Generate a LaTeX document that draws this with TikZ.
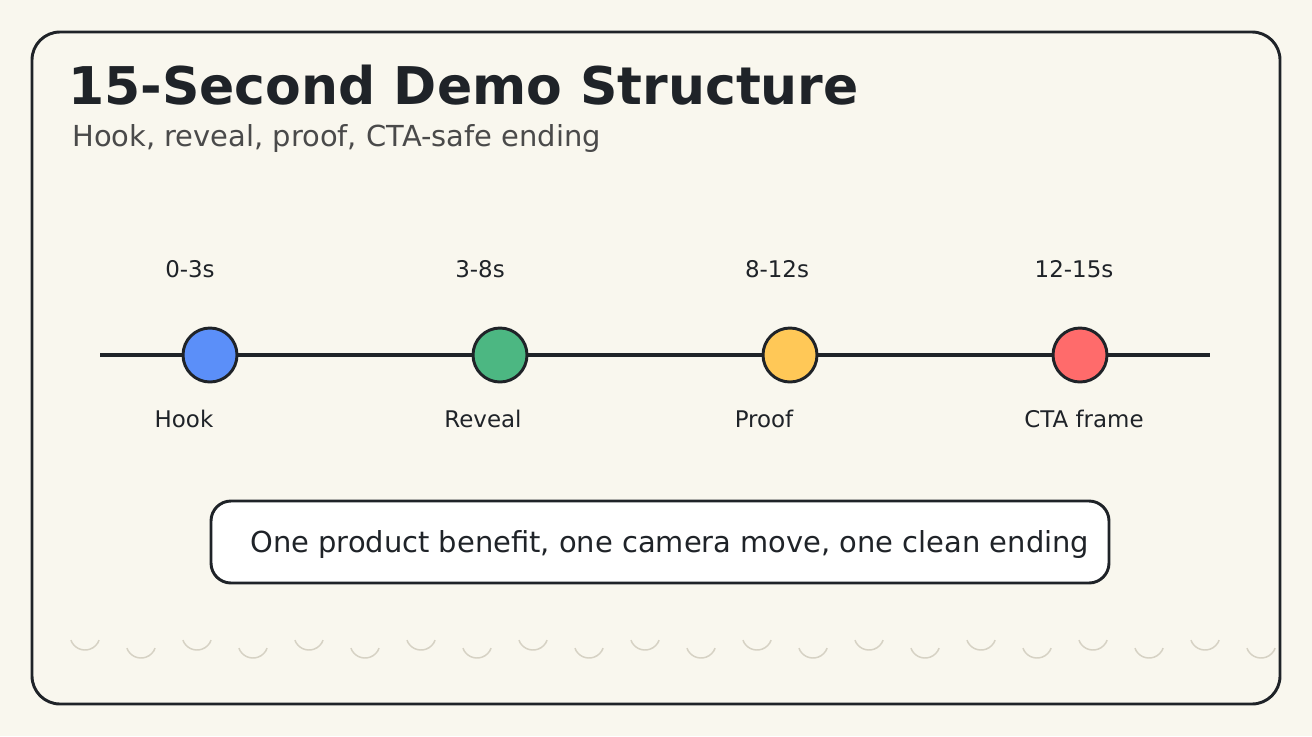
\documentclass[tikz,border=0pt]{standalone}
\usepackage{fontspec}
\setmainfont{DejaVu Sans}
\definecolor{bgc}{HTML}{F9F7EE}
\definecolor{ink}{HTML}{1F2328}
\definecolor{subc}{HTML}{4A4A4A}
\definecolor{arcc}{HTML}{D6D2C4}
\definecolor{hookc}{HTML}{5B8FF9}
\definecolor{revealc}{HTML}{4CB782}
\definecolor{proofc}{HTML}{FFC857}
\definecolor{ctac}{HTML}{FF6B6B}
\tikzstyle{dot}=[circle, draw=ink, line width=2.2pt, minimum size=40.5pt, inner sep=0pt]
\tikzstyle{lbl}=[text=ink, font=\fontsize{17.2pt}{20pt}\selectfont, inner sep=0pt]
\begin{document}
\begin{tikzpicture}[x=0.75pt, y=-0.75pt]
		\fill[bgc] (0,0) rectangle (1312,736);
		\useasboundingbox (0,0) rectangle (1312,736);
		\draw[ink, line width=2.2pt, rounded corners=21pt] (32,32) rectangle (1280,704);

		\node[anchor=base west, text=ink, inner sep=0pt, font=\bfseries\fontsize{39pt}{44pt}\selectfont] (title) at (68,104) {15-Second Demo Structure};
		\node[anchor=base west, text=subc, inner sep=0pt, font=\fontsize{21.7pt}{25pt}\selectfont] (sub) at (72,146) {Hook, reveal, proof, CTA-safe ending};

		\coordinate (lstart) at (100,355);
		\coordinate (lend) at (1210,355);
		\draw[ink, line width=3.6pt] (lstart) -- (lend);

		\node [style=dot, fill=hookc] (hook) at (210,355) {};
		\node [style=dot, fill=revealc] (reveal) at (500,355) {};
		\node [style=dot, fill=proofc] (proof) at (790,355) {};
		\node [style=dot, fill=ctac] (cta) at (1080,355) {};

		\node [style=lbl] (t1) at (190,269) {0-3s};
		\node [style=lbl] (t2) at (480,269) {3-8s};
		\node [style=lbl] (t3) at (777,269) {8-12s};
		\node [style=lbl] (t4) at (1074,269) {12-15s};

		\node [style=lbl] (n1) at (184,419) {Hook};
		\node [style=lbl] (n2) at (483,419) {Reveal};
		\node [style=lbl] (n3) at (764,419) {Proof};
		\node [style=lbl] (n4) at (1084,419) {CTA frame};

		\draw[ink, fill=white, line width=2.2pt, rounded corners=15pt] (211,501) rectangle (1109,583);
		\node[anchor=west, text=ink, inner sep=0pt, font=\fontsize{21.7pt}{25pt}\selectfont] (note) at (250,545) {One product benefit, one camera move, one clean ending};

		\foreach \i in {0,...,21} {
			\pgfmathsetmacro{\cy}{isodd(\i) ? 643 : 635}
			\draw[arcc, line width=1.1pt] ({85+56*\i+15*cos(200)}, {\cy-15*sin(200)}) arc[start angle=200, end angle=340, radius=15*0.75pt];
		}
\end{tikzpicture}
\end{document}
